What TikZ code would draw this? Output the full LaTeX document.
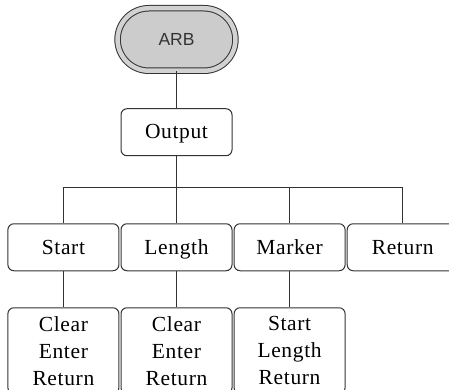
\documentclass[tikz,border=0pt]{standalone}
\usepackage{fontspec}
\setmainfont{Liberation Serif}[LetterSpace=3]
\newfontfamily\arbfont{Liberation Sans}
\usetikzlibrary{positioning, shapes.misc}

\begin{document}
\begin{tikzpicture}[
            x=1pt, y=-1pt,
            node distance=36pt and 1.1pt,
            box/.style={rectangle, draw=black!80, rounded corners=6pt, minimum width=111pt, inner sep=0pt, line width=1pt, font=\fontsize{21.5}{27}\selectfont, align=center},
            menu/.style={box, minimum height=47pt, text height=15pt, text depth=1.5pt},
            submenu/.style={box, minimum height=86pt},
            key/.style={rounded rectangle, draw=black!80, line width=1pt, double=gray!35, double distance=4.5pt, fill=gray!40, minimum height=62.5pt, minimum width=124.5pt, font=\arbfont\fontsize{17.5}{18}\selectfont, text=black!80},
            link/.style={draw=black!80, line width=1pt}
        ]
            \useasboundingbox (0,0) rectangle (449,390);
            \node[key] (arb) at (176.5,39.5) {ARB};
            \node[menu, below=37pt of arb] (output) {Output};
            \node[menu, below=67pt of output] (length) {Length};
            \node[menu, left=of length] (start) {Start};
            \node[menu, right=of length] (marker) {Marker};
            \node[menu, right=of marker] (ret) {Return};

            \node[submenu, below=of start] (startsub) {Clear\\Enter\\Return};
            \node[submenu, below=of length] (lengthsub) {Clear\\Enter\\Return};
            \node[submenu, below=of marker] (markersub) {Start\\Length\\Return};

            \coordinate[below=31pt of output] (bus);

            \draw[link] (arb.south) -- (output.north);
            \draw[link] (output.south) -- (length.north);
            \draw[link] (start.north) |- (bus) -| (ret.north);
            \draw[link] (marker.north) -- (marker.north |- bus);
            \draw[link] (start.south) -- (startsub.north);
            \draw[link] (length.south) -- (lengthsub.north);
            \draw[link] (marker.south) -- (markersub.north);
        \end{tikzpicture}
\end{document}
